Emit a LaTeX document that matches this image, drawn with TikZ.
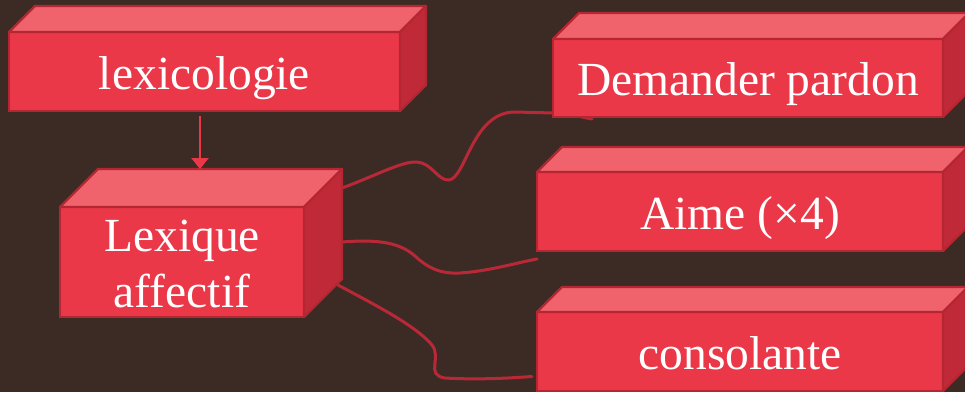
\documentclass[tikz,border=0pt]{standalone}
\usepackage{fontspec}
\setmainfont{Liberation Serif}
\usetikzlibrary{arrows.meta,calc,backgrounds}

\definecolor{bg}{RGB}{59,43,36}
\definecolor{boxfront}{RGB}{235,56,72}
\definecolor{boxtop}{RGB}{240,98,108}
\definecolor{boxside}{RGB}{192,42,56}
\definecolor{boxedge}{RGB}{180,38,50}
\definecolor{linkred}{RGB}{185,40,55}

\tikzset{
  face/.style={draw=boxedge, fill=boxfront, line width=2.2pt, outer sep=0pt,
    inner sep=0pt, anchor=north west, align=center, text=white,
    font=\fontsize{47.5}{56}\selectfont, text height=35pt, text depth=0pt},
  link/.style={draw=linkred, line width=3pt, line cap=round},
}

% front face as a node, top and side faces drawn behind its corners
\newcommand{\brick}[8][]{%
  \node[face, minimum width=#5pt, minimum height=#6pt, #1] (#2) at (#3,#4) {#8};
  \filldraw[draw=boxedge, fill=boxtop, line width=2.2pt, line join=round]
    (#2.north west) -- ++(#7,-#7) -- ($(#2.north east)+(#7,-#7)$) -- (#2.north east) -- cycle;
  \filldraw[draw=boxedge, fill=boxside, line width=2.2pt, line join=round]
    (#2.north east) -- ++(#7,-#7) -- ($(#2.south east)+(#7,-#7)$) -- (#2.south east) -- cycle;
}

\begin{document}
\begin{tikzpicture}[x=1pt,y=-1pt]
  \useasboundingbox (0,0) rectangle (965,392);

  \brick{lexico}{9}{32}{391}{79}{26}{lexicologie}
  \brick[text height=91pt]{lex}{60}{207}{244}{110}{38}{Lexique\\affectif}
  \brick{pardon}{553}{39}{390}{78}{26}{Demander pardon}
  \brick{aime}{537}{172}{406}{79}{25}{Aime (×4)}
  \brick{conso}{537}{312}{406}{79}{25}{consolante}

  \draw[boxfront, line width=2.2pt, -{Triangle[width=17pt,length=11pt]}]
    ([xshift=-4.5pt,yshift=-5pt]lexico.south) -- ([xshift=18pt,yshift=38pt]lex.north);

  % loose ends of the links
  \coordinate (a1) at ($(lex.north east)+(38,-19)$);
  \coordinate (a2) at ($(lex.east)+(38,-20)$);
  \coordinate (a3) at ($(lex.south east)+(34,-32)$);
  \coordinate (b1) at ($(pardon.south west)+(39,2)$);
  \coordinate (b2) at ($(aime.south west)+(0,8)$);
  \coordinate (b3) at ($(conso.west)+(-5,25)$);

  \begin{scope}[on background layer]
    \fill[bg] (0,0) rectangle (965,392);
    \draw[link] (a1) .. controls (375,176) and (402,161) .. (417,162)
      .. controls (432,163) and (438,181) .. (449,180)
      .. controls (466,178) and (472,112) .. (515,112)
      -- (553,113) .. controls (570,113) and (580,117) .. (b1);
    \draw[link] (a2) .. controls (380,239) and (400,243) .. (415,256)
      .. controls (428,268) and (440,274) .. (460,273)
      .. controls (490,271) and (515,263) .. (b2);
    \draw[link] (a3) .. controls (375,305) and (415,325) .. (432,345)
      .. controls (442,358) and (425,375) .. (445,378)
      .. controls (480,380) and (510,378) .. (b3);
  \end{scope}
\end{tikzpicture}
\end{document}
